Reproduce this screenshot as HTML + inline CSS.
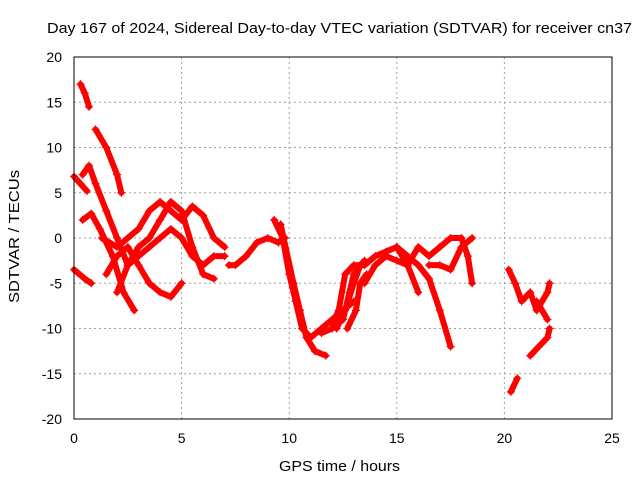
<!DOCTYPE html>
<html><head><meta charset="utf-8">
<style>
body{margin:0;background:#fff;}
svg{display:block;font-family:"Liberation Sans",sans-serif;}
</style></head>
<body>
<svg id="chart" width="640" height="480" viewBox="0 0 640 480" xmlns="http://www.w3.org/2000/svg">
<rect x="0" y="0" width="640" height="480" fill="#fff"/>
<text x="47" y="33" font-size="15" textLength="585" lengthAdjust="spacingAndGlyphs">Day 167 of 2024, Sidereal Day-to-day VTEC variation (SDTVAR) for receiver cn37</text>
<text x="279" y="471" font-size="15" textLength="121" lengthAdjust="spacingAndGlyphs">GPS time / hours</text>
<text transform="translate(19,303) rotate(-90)" font-size="15" textLength="133" lengthAdjust="spacingAndGlyphs">SDTVAR / TECUs</text>
<g id="grid"></g>
<g id="ticks"></g>
<g id="series"></g>
<rect x="74" y="57" width="538" height="362" fill="none" stroke="#000" stroke-width="1"/>
</svg>
<script>
const xTicks=[0,5,10,15,20,25];
const yTicks=[20,15,10,5,0,-5,-10,-15,-20];
const tracks=[
[[0.3,17],[0.5,16],[0.7,14.5]],
[[1,12],[1.5,10],[2,7],[2.2,5]],
[[0,6.8],[0.3,6],[0.6,5.2]],
[[0.4,7],[0.7,8],[1,6],[1.5,3],[2,0],[2.5,-3],[3,-1],[3.5,0],[4,2],[4.5,4],[5,3],[5.5,-1],[6,-4],[6.5,-4.5]],
[[0.4,2],[0.8,2.7],[1.2,1],[1.8,-2],[2.3,-6],[2.8,-8]],
[[0,-3.5],[0.5,-4.5],[0.8,-5]],
[[1.3,0],[2,-1],[2.5,0],[3,1],[3.5,3],[4,4],[4.5,3],[5,2],[5.5,3.5],[6,2.5],[6.5,0],[7,-1]],
[[1.5,-4],[2,-2],[2.5,-1],[3,-3],[3.5,-5],[4,-6],[4.5,-6.5],[5,-5]],
[[2,-6],[2.5,-3],[3,-2],[3.5,-1],[4,0],[4.5,1],[5,0],[5.5,-2],[6,-3],[6.5,-2],[7,-2]],
[[7.2,-3],[7.5,-3],[8,-2],[8.5,-0.5],[9,0],[9.5,-0.5],[9.8,0]],
[[9.3,2],[9.7,0],[10,-4],[10.3,-7],[10.6,-10],[11,-11],[11.5,-10],[12,-9],[12.5,-8],[13,-7]],
[[9.6,1.5],[10.2,-5],[10.5,-8],[10.8,-11],[11.2,-12.5],[11.7,-13]],
[[11.5,-10.5],[12,-10],[12.5,-9],[12.8,-6],[13,-4],[13.5,-2.5]],
[[12.2,-10],[12.6,-8],[13,-5],[13.3,-3]],
[[12.7,-10],[13.1,-8],[13.3,-5],[13.6,-4]],
[[12,-9.5],[12.3,-8],[12.6,-4],[13,-3],[13.5,-3],[14,-2],[14.5,-1.5],[15,-1],[15.5,-2],[16,-3],[16.5,-4.5],[17,-8],[17.5,-12]],
[[13.5,-5],[14,-3],[14.5,-2],[15,-2.5],[15.5,-3],[16,-1],[16.5,-2],[17,-1],[17.5,0],[18,0],[18.3,-2],[18.5,-5]],
[[15,-1],[15.5,-3],[16,-6]],
[[16.5,-3],[17,-3],[17.5,-3.5],[18,-1],[18.5,0]],
[[20.2,-3.5],[20.5,-5],[20.8,-7],[21.2,-6],[21.5,-8],[22,-6],[22.1,-5]],
[[20.3,-17],[20.6,-15.5]],
[[21.2,-13],[21.6,-12],[22,-11],[22.1,-10]],
[[21.5,-7],[22,-9]]
];
const NS="http://www.w3.org/2000/svg";
const X=v=>74+(v-0)*(538/25);
const Y=v=>57+(20-v)*(362/40);
const grid=document.getElementById('grid'),ticks=document.getElementById('ticks'),series=document.getElementById('series');
function mk(tag,attrs,parent){const e=document.createElementNS(NS,tag);for(const k in attrs)e.setAttribute(k,attrs[k]);parent.appendChild(e);return e;}
xTicks.forEach(t=>{
  if(t>0&&t<25){const g=mk('line',{x1:X(t),x2:X(t),y1:57,y2:419,stroke:'#a0a0a0','stroke-dasharray':'2,3','stroke-width':1},grid);
  
  }
  const l=mk('text',{x:X(t),y:443,'font-size':14,'text-anchor':'middle'},ticks);
  l.textContent=t;
  
  
});
yTicks.forEach(t=>{
  if(t>-20&&t<20){const g=mk('line',{x1:74,x2:612,y1:Y(t),y2:Y(t),stroke:'#a0a0a0','stroke-dasharray':'2,3','stroke-width':1},grid);
  
  }
  const l=mk('text',{x:62,y:Y(t)+5,'font-size':14,'text-anchor':'end'},ticks);
  l.textContent=t;
  
  
});
tracks.forEach((tr,i)=>{
  const p=mk('polyline',{points:tr.map(d=>X(d[0])+','+Y(d[1])).join(' '),fill:'none',stroke:'#ff0000','stroke-width':6,'stroke-linejoin':'round','stroke-linecap':'round'},series);
  
  
  tr.forEach(d=>{
    const m=mk('path',{d:`M${X(d[0])-4},${Y(d[1])}h8M${X(d[0])},${Y(d[1])-4}v8`,stroke:'#ff0000','stroke-width':1.2},series);
    
    
  });
});
</script>
</body></html>
